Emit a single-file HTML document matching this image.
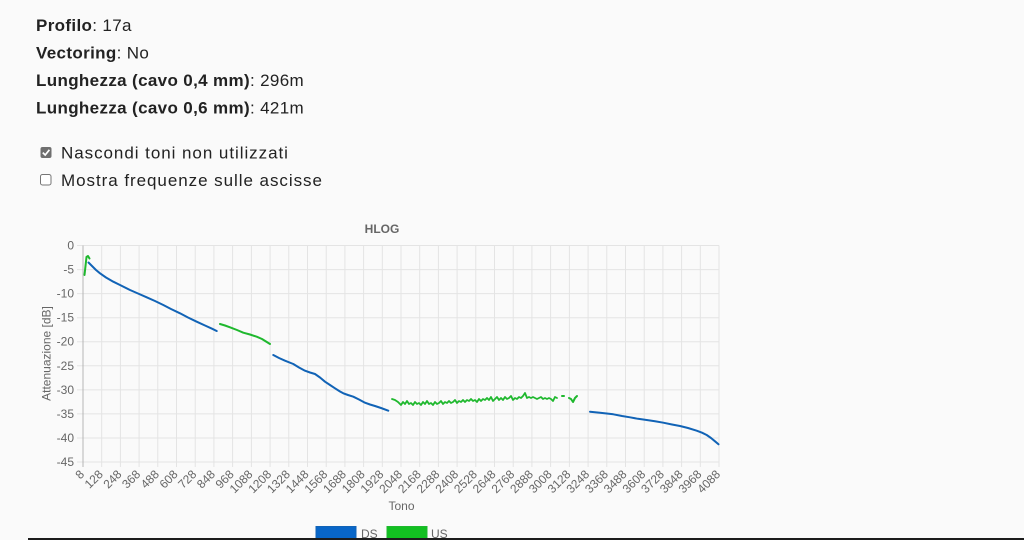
<!DOCTYPE html>
<html>
<head>
<meta charset="utf-8">
<style>
html,body{margin:0;padding:0;background:#fafafa;}
svg{display:block;}
.h{font-family:"Liberation Sans",sans-serif;font-size:17px;fill:#222;letter-spacing:0.35px;}
.cb{font-family:"Liberation Sans",sans-serif;font-size:17px;fill:#222;letter-spacing:0.95px;}
.t{font-family:"Liberation Sans",sans-serif;font-size:12px;fill:#666;}
</style>
</head>
<body>
<svg width="1024" height="540" viewBox="0 0 1024 540" xmlns="http://www.w3.org/2000/svg">
<rect width="1024" height="540" fill="#fafafa"/>
<!-- header text -->
<text class="h" x="36" y="31"><tspan font-weight="bold">Profilo</tspan>: 17a</text>
<text class="h" x="36" y="58.5"><tspan font-weight="bold">Vectoring</tspan>: No</text>
<text class="h" x="36" y="86"><tspan font-weight="bold">Lunghezza (cavo 0,4 mm)</tspan>: 296m</text>
<text class="h" x="36" y="113.5"><tspan font-weight="bold">Lunghezza (cavo 0,6 mm)</tspan>: 421m</text>
<!-- checkboxes -->
<rect x="40.5" y="147" width="11" height="11" rx="2" fill="#6f6f6f"/>
<path d="M42.8 152.6 L45.2 155 L49.4 149.8" stroke="#fff" stroke-width="1.7" fill="none"/>
<text class="cb" x="61" y="158.5">Nascondi toni non utilizzati</text>
<rect x="40.5" y="174.5" width="10.5" height="10.5" rx="2" fill="#fff" stroke="#767676" stroke-width="1"/>
<text class="cb" x="61" y="186">Mostra frequenze sulle ascisse</text>

<!-- chart title -->
<text class="t" x="382" y="233" text-anchor="middle" font-weight="bold" font-size="12.5">HLOG</text>

<!-- horizontal grid -->
<g stroke="#e4e4e4" stroke-width="1">
<line x1="77" y1="245.5" x2="719" y2="245.5"/>
<line x1="77" y1="269.6" x2="719" y2="269.6"/>
<line x1="77" y1="293.6" x2="719" y2="293.6"/>
<line x1="77" y1="317.7" x2="719" y2="317.7"/>
<line x1="77" y1="341.7" x2="719" y2="341.7"/>
<line x1="77" y1="365.8" x2="719" y2="365.8"/>
<line x1="77" y1="389.9" x2="719" y2="389.9"/>
<line x1="77" y1="413.9" x2="719" y2="413.9"/>
<line x1="77" y1="438.0" x2="719" y2="438.0"/>
<line x1="77" y1="462.0" x2="719" y2="462.0"/>
</g>
<!-- vertical grid -->
<g stroke="#e4e4e4" stroke-width="1">
<line x1="101.7" y1="245.5" x2="101.7" y2="467"/>
<line x1="120.4" y1="245.5" x2="120.4" y2="467"/>
<line x1="139.1" y1="245.5" x2="139.1" y2="467"/>
<line x1="157.8" y1="245.5" x2="157.8" y2="467"/>
<line x1="176.5" y1="245.5" x2="176.5" y2="467"/>
<line x1="195.2" y1="245.5" x2="195.2" y2="467"/>
<line x1="213.9" y1="245.5" x2="213.9" y2="467"/>
<line x1="232.6" y1="245.5" x2="232.6" y2="467"/>
<line x1="251.4" y1="245.5" x2="251.4" y2="467"/>
<line x1="270.1" y1="245.5" x2="270.1" y2="467"/>
<line x1="288.8" y1="245.5" x2="288.8" y2="467"/>
<line x1="307.5" y1="245.5" x2="307.5" y2="467"/>
<line x1="326.2" y1="245.5" x2="326.2" y2="467"/>
<line x1="344.9" y1="245.5" x2="344.9" y2="467"/>
<line x1="363.6" y1="245.5" x2="363.6" y2="467"/>
<line x1="382.3" y1="245.5" x2="382.3" y2="467"/>
<line x1="401.0" y1="245.5" x2="401.0" y2="467"/>
<line x1="419.7" y1="245.5" x2="419.7" y2="467"/>
<line x1="438.4" y1="245.5" x2="438.4" y2="467"/>
<line x1="457.1" y1="245.5" x2="457.1" y2="467"/>
<line x1="475.8" y1="245.5" x2="475.8" y2="467"/>
<line x1="494.5" y1="245.5" x2="494.5" y2="467"/>
<line x1="513.2" y1="245.5" x2="513.2" y2="467"/>
<line x1="531.9" y1="245.5" x2="531.9" y2="467"/>
<line x1="550.6" y1="245.5" x2="550.6" y2="467"/>
<line x1="569.4" y1="245.5" x2="569.4" y2="467"/>
<line x1="588.1" y1="245.5" x2="588.1" y2="467"/>
<line x1="606.8" y1="245.5" x2="606.8" y2="467"/>
<line x1="625.5" y1="245.5" x2="625.5" y2="467"/>
<line x1="644.2" y1="245.5" x2="644.2" y2="467"/>
<line x1="662.9" y1="245.5" x2="662.9" y2="467"/>
<line x1="681.6" y1="245.5" x2="681.6" y2="467"/>
<line x1="700.3" y1="245.5" x2="700.3" y2="467"/>
<line x1="719.0" y1="245.5" x2="719.0" y2="467"/>
</g>
<line x1="83" y1="245.5" x2="83" y2="467" stroke="#b5b5b5" stroke-width="1"/>

<!-- y tick labels -->
<g class="t" text-anchor="end">
<text x="74" y="249.5">0</text>
<text x="74" y="273.6">-5</text>
<text x="74" y="297.6">-10</text>
<text x="74" y="321.7">-15</text>
<text x="74" y="345.7">-20</text>
<text x="74" y="369.8">-25</text>
<text x="74" y="393.9">-30</text>
<text x="74" y="417.9">-35</text>
<text x="74" y="442.0">-40</text>
<text x="74" y="466.0">-45</text>
</g>
<text class="t" transform="translate(50.5,353.5) rotate(-90)" text-anchor="middle" font-size="13">Attenuazione [dB]</text>

<!-- x tick labels -->
<g class="t" text-anchor="end">
<text transform="translate(85,475) rotate(-45)">8</text>
<text transform="translate(103.7,475) rotate(-45)">128</text>
<text transform="translate(122.4,475) rotate(-45)">248</text>
<text transform="translate(141.1,475) rotate(-45)">368</text>
<text transform="translate(159.8,475) rotate(-45)">488</text>
<text transform="translate(178.5,475) rotate(-45)">608</text>
<text transform="translate(197.2,475) rotate(-45)">728</text>
<text transform="translate(215.9,475) rotate(-45)">848</text>
<text transform="translate(234.6,475) rotate(-45)">968</text>
<text transform="translate(253.4,475) rotate(-45)">1088</text>
<text transform="translate(272.1,475) rotate(-45)">1208</text>
<text transform="translate(290.8,475) rotate(-45)">1328</text>
<text transform="translate(309.5,475) rotate(-45)">1448</text>
<text transform="translate(328.2,475) rotate(-45)">1568</text>
<text transform="translate(346.9,475) rotate(-45)">1688</text>
<text transform="translate(365.6,475) rotate(-45)">1808</text>
<text transform="translate(384.3,475) rotate(-45)">1928</text>
<text transform="translate(403.0,475) rotate(-45)">2048</text>
<text transform="translate(421.7,475) rotate(-45)">2168</text>
<text transform="translate(440.4,475) rotate(-45)">2288</text>
<text transform="translate(459.1,475) rotate(-45)">2408</text>
<text transform="translate(477.8,475) rotate(-45)">2528</text>
<text transform="translate(496.5,475) rotate(-45)">2648</text>
<text transform="translate(515.2,475) rotate(-45)">2768</text>
<text transform="translate(533.9,475) rotate(-45)">2888</text>
<text transform="translate(552.6,475) rotate(-45)">3008</text>
<text transform="translate(571.4,475) rotate(-45)">3128</text>
<text transform="translate(590.1,475) rotate(-45)">3248</text>
<text transform="translate(608.8,475) rotate(-45)">3368</text>
<text transform="translate(627.5,475) rotate(-45)">3488</text>
<text transform="translate(646.2,475) rotate(-45)">3608</text>
<text transform="translate(664.9,475) rotate(-45)">3728</text>
<text transform="translate(683.6,475) rotate(-45)">3848</text>
<text transform="translate(702.3,475) rotate(-45)">3968</text>
<text transform="translate(721.0,475) rotate(-45)">4088</text>
</g>
<text class="t" x="401.5" y="510" text-anchor="middle">Tono</text>

<!-- series -->
<g fill="none" stroke-width="2" stroke-linejoin="round" stroke-linecap="round">
<!-- DS -->
<polyline stroke="#1163b6" points="88.5,262.5 92,266 96,270 100,273.3 106,277.5 113.3,281.7 120,285 130,290 138,293.5 146.7,297.3 155,301 163.3,305 171,309 180,313.3 188,317.5 196.7,321.7 205,325.5 212,328.7 216.7,331"/>
<polyline stroke="#1163b6" points="273.3,355 279,358 285,360.7 293.3,364 299,367.5 305,370.7 310,372.5 315,374 320,377.5 325,381.7 330,385 335,388.3 340,391.5 343.3,393.3 348,395 353.3,396.7 359,399.5 365,402.7 370,404.5 375,406 381,408 388.3,410.7"/>
<polyline stroke="#1163b6" points="590,411.7 600,412.8 613.3,414.3 622,416 630,417.3 638,418.8 646.7,420 655,421.3 663.3,422.7 672,424.5 680,426 688,428 696.7,430.7 702,432.7 706.7,435 711,438 715,441.3 718.5,444.3"/>
<!-- US -->
<polyline stroke="#1fb82e" points="84.5,275 85.5,266 86.5,257 88,256 89.5,258.5"/>
<polyline stroke="#1fb82e" points="220,324 225,325.5 230,327.3 237,330 243.3,332.7 250,334.5 256.7,336.7 262,339 266,341.5 270,344"/>
<polyline stroke="#1fb82e" stroke-width="1.8" points="392,399 395,400 398,402 401,405 403,402 405,404 407,401 409,404 411,403 413,405 415,402 417,404 419,403 421,405 423,402 425,404 427,401 429,404 431,403 433,405 435,402 437,404 439,403 441,401 443,404 445,402 447,403 449,401 451,403 453,402 455,400 457,403 459,401 461,402 463,400 465,402 467,400 469,401 471,399 473,401 475,400 477,402 479,399 481,401 483,399 485,400 487,398 489,400 491,397 493,401 495,399 497,397 499,400 501,398 503,400 505,397 507,399 509,398 511,396 513,400 515,398 517,399 519,397 521,398 523,396 525,393 527,398 529,397 531,398 533,397 535,398 537,399 539,398 541,397 543,399 545,398 547,399 549,398 551,399 553,401 555,397 557,398"/>
<polyline stroke="#1fb82e" points="562,396 564,396"/>
<polyline stroke="#1fb82e" points="569,398 571,399 573,402 575,398 577,396"/>
</g>

<!-- legend -->
<rect x="316" y="526.5" width="40" height="12" fill="#0866c8" stroke="#1163b6" stroke-width="1"/>
<text class="t" x="361" y="538">DS</text>
<rect x="387" y="526.5" width="40" height="12" fill="#12c021" stroke="#1fb82e" stroke-width="1"/>
<text class="t" x="431" y="538">US</text>

<!-- bottom bar -->
<rect x="28" y="538" width="996" height="2" fill="#1c1c1c"/>
</svg>
</body>
</html>
